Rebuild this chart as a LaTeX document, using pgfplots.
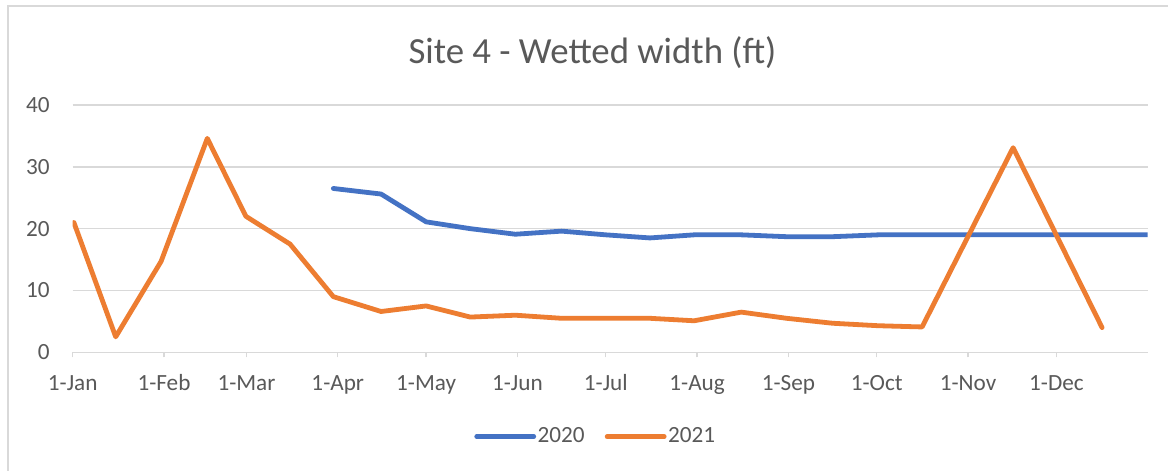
\documentclass[border=0pt]{standalone}
\usepackage{fontspec}
\setmainfont{Carlito}
\usepackage{pgfplots}
\pgfplotsset{compat=1.18}
\definecolor{txtgray}{HTML}{595959}
\definecolor{gridgray}{HTML}{D9D9D9}
\definecolor{xlblue}{HTML}{4472C4}
\definecolor{xlorange}{HTML}{ED7D31}
\begin{document}
\begin{tikzpicture}
\useasboundingbox (0pt,0pt) rectangle (584pt,-235.5pt);
\fill[white] (0pt,0pt) rectangle (584pt,-235.5pt);
\draw[gridgray, line width=0.7pt] (4pt,-240pt) -- (4pt,-3pt) -- (590pt,-3pt);
\node[anchor=base, text=txtgray, font=\fontsize{18.4}{22}\selectfont, inner sep=0pt] at (296.25pt,-31.7pt) {Site 4 - Wetted width (ft)};
\begin{axis}[
  at={(36.35pt,-176.15pt)}, anchor=south west,
  scale only axis, width=537.5pt, height=123.65pt,
  xmin=0, xmax=365, ymin=0, ymax=40,
  xtick={0,31,59,90,120,151,181,212,243,273,304,334},
  xticklabels={1-Jan,1-Feb,1-Mar,1-Apr,1-May,1-Jun,1-Jul,1-Aug,1-Sep,1-Oct,1-Nov,1-Dec},
  ytick={0,10,20,30,40},
  ymajorgrids, grid style={gridgray, line width=0.7pt},
  axis line style={draw=none},
  tick pos=left, xtick align=outside, major tick length=2.5pt,
  ytick style={draw=none}, xtick style={gridgray, line width=0.7pt},
  tick label style={text=txtgray, font=\fontsize{11.6}{14}\selectfont, inner sep=0pt},
  xticklabel style={anchor=base, yshift=-16.6pt},
  yticklabel style={anchor=east, xshift=-11.35pt},
  /pgf/number format/assume math mode=true,
  legend style={draw=none, fill=none, at={(0.4863,-0.341)}, anchor=center,
    font=\fontsize{11.6}{14}\selectfont, text=txtgray,
    nodes={inner sep=0.75pt},
    /tikz/every even column/.append style={column sep=9.3pt}},
  legend columns=2,
  legend image code/.code={\draw[#1, line cap=round] (0pt,0pt) -- (28.5pt,0pt);},
]
\addplot[xlblue, line width=2.4pt, line join=round, line cap=round] coordinates {
(88.5,26.5) (104.7,25.6) (120,21.1) (135,20.0) (150.3,19.1) (166,19.6)
(181,19.0) (196,18.5) (211,19.0) (227,19.0) (242.4,18.7) (258,18.7)
(273.5,19.0) (288.4,19.0) (304,19.0) (319.3,19.0) (334,19.0) (349.5,19.0) (365,19.0)
};
\addlegendentry{2020}
\addplot[xlorange, line width=2.4pt, line join=round, line cap=round] coordinates {
(0.4,21.0) (14.6,2.5) (30,14.7) (45.7,34.6) (58.8,22.0) (73.8,17.5)
(88.5,9.0) (104.7,6.6) (120,7.5) (135,5.7) (150.3,6.0) (166,5.5)
(181,5.5) (196,5.5) (211,5.1) (227,6.5) (242.4,5.5) (258,4.7)
(273.5,4.3) (288.4,4.1) (319.3,33.1) (349.5,4.0)
};
\addlegendentry{2021}
\end{axis}
\end{tikzpicture}
\end{document}
